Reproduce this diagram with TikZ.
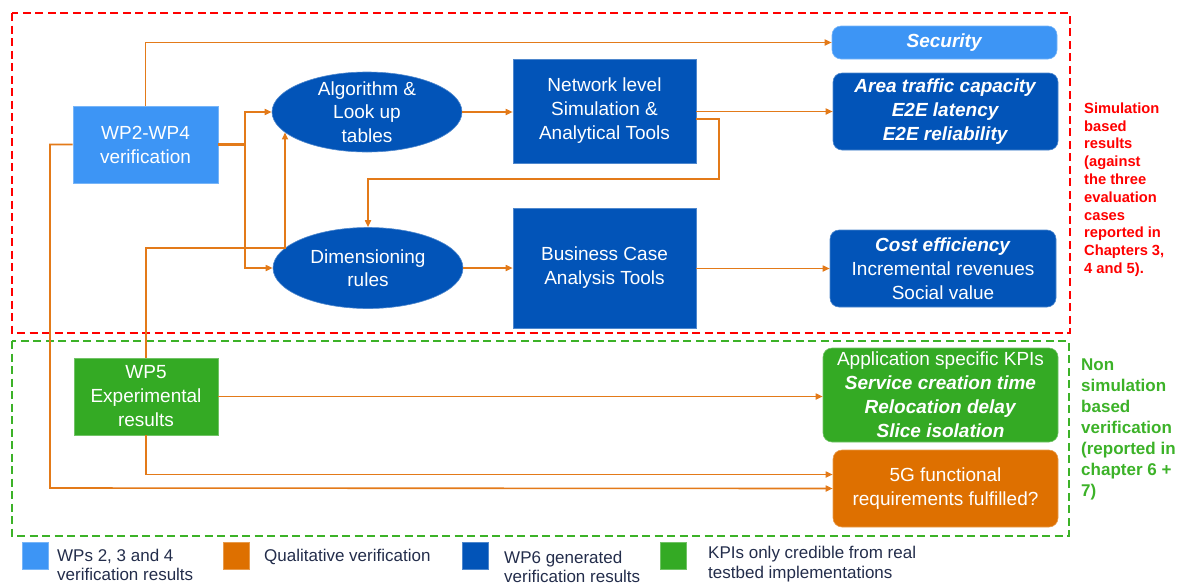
\documentclass[tikz,border=0pt]{standalone}
\usepackage{fontspec}
\setmainfont{Liberation Sans}
\usetikzlibrary{arrows.meta,shapes.geometric,calc}
\definecolor{lblue}{RGB}{61,149,245}
\definecolor{dblue}{RGB}{2,84,184}
\definecolor{grn}{RGB}{52,170,36}
\definecolor{orn}{RGB}{222,112,0}
\definecolor{ln}{RGB}{227,122,25}
\definecolor{rd}{RGB}{255,0,0}
\definecolor{gd}{RGB}{60,178,40}
\definecolor{navy}{RGB}{35,45,75}
\tikzset{
  box/.style={rectangle, fill=#1, draw=#1!70!white, line width=0.6pt, text=white, align=center, inner sep=0pt, font=\fontsize{19}{24}\selectfont},
  rbox/.style={box=#1, rounded corners=9pt},
  ell/.style={ellipse, fill=dblue, draw=dblue!70!white, line width=0.6pt, inner sep=0pt},
  elltext/.style={text=white, align=center, inner sep=0pt, font=\fontsize{19}{23.5}\selectfont},
  conn/.style={draw=ln, line width=1.6pt},
  arr/.style={conn, -{Triangle[length=7pt,width=6pt]}},
  legsq/.style={rectangle, minimum width=26pt, minimum height=27pt, inner sep=0pt, fill=#1, draw=#1!70!white, line width=0.5pt},
  leg/.style={text=navy, inner sep=0pt, font=\fontsize{17}{20}\selectfont, anchor=base west},
  region/.style={line width=2.5pt, dash pattern=on 8pt off 4.5pt},
}
\begin{document}
\begin{tikzpicture}[x=1pt,y=-1pt]
\useasboundingbox (0,0) rectangle (1182,584);

% regions
\draw[region, draw=rd] (12,13) rectangle (1070,333);
\draw[region, draw=gd] (12,341) rectangle (1069,536);

% nodes
\node[box=lblue, minimum width=145pt, minimum height=77pt] (wp24) at (145.5,144.5) {WP2-WP4\\verification};
\node[box=grn, minimum width=144pt, minimum height=77pt] (wp5) at (146,396.5) {WP5\\Experimental\\results};
\node[rbox=lblue, minimum width=225pt, minimum height=33pt] (sec) at (944.5,42.5) {\textbf{\textit{Security}}};
\node[rbox=dblue, minimum width=225pt, minimum height=77pt] (area) at (945.5,111.5) {\textbf{\textit{Area traffic capacity}}\\\textbf{\textit{E2E latency}}\\\textbf{\textit{E2E reliability}}};
\node[box=dblue, minimum width=183pt, minimum height=104pt] (net) at (604.5,111) {Network level\\Simulation \&\\Analytical Tools};
\node[box=dblue, minimum width=183pt, minimum height=120pt] (bus) at (604.5,268) {Business Case\\Analysis Tools};
\node[rbox=dblue, minimum width=226pt, minimum height=77pt] (cost) at (943,268.5) {\textbf{\textit{Cost efficiency}}\\Incremental revenues\\Social value};
\node[rbox=grn, minimum width=235pt, minimum height=94pt] (app) at (940.5,395) {Application specific KPIs\\\textbf{\textit{Service creation time}}\\\textbf{\textit{Relocation delay}}\\\textbf{\textit{Slice isolation}}};
\node[rbox=orn, minimum width=225pt, minimum height=77pt] (fg) at (945.5,488.5) {5G functional\\requirements fulfilled?};

\node[ell, minimum width=190pt, minimum height=80pt] (alg) at (367,112) {};
\node[elltext] (algt) at (alg.center) {Algorithm \&\\Look up\\tables};
\node[ell, minimum width=190pt, minimum height=81pt] (dim) at (368,268) {};
\node[elltext] (dimt) at (dim.center) {Dimensioning\\rules};

% connectors
\coordinate (j1) at (245,144.5);
\coordinate (k) at (285,248);
\coordinate (lp) at (719,179);
\coordinate (lft) at (50,488);

\draw[arr] (wp24.north) |- (sec.west);
\draw[conn, line width=3pt] (wp24.east) -- (j1);
\draw[arr] (j1) |- (alg.west);
\draw[arr] (j1) |- (dim.west);
\draw[arr] (wp5.north) |- (k) -- (k |- alg.194);
\draw[arr] (alg.east) -- (alg.east -| net.west);
\draw[arr] (net.east |- area.west) -- (area.west);
\draw[arr] ([yshift=-8pt]net.east) -| (lp) -| (dim.north);
\draw[arr] (dim.east) -- (dim.east -| bus.west);
\draw[arr] (bus.east |- cost.west) -- (cost.west);
\draw[arr] (wp5.east) -- (wp5.east -| app.west);
\draw[arr] (wp5.south) |- ([yshift=14pt]fg.west);
\draw[arr] (wp24.west) -| (lft) -- (fg.west);

% side notes
\node[anchor=north west, inner sep=0pt, align=left, text=rd, font=\fontsize{14.7}{17.8}\selectfont\bfseries] (note1) at (1084,102.5)
 {Simulation\\based\\results\\(against\\the three\\evaluation\\cases\\reported in\\Chapters 3,\\4 and 5).};
\node[anchor=north west, inner sep=0pt, align=left, text=gd, font=\fontsize{17}{21}\selectfont\bfseries] (note2) at (1081,359)
 {Non\\simulation\\based\\verification\\(reported in\\chapter 6 +\\7)};

% legend
\node[legsq=lblue] (l1) at (35,555.5) {};
\node[legsq=orn] (l2) at (236,555.5) {};
\node[legsq=dblue] (l3) at (475,555.5) {};
\node[legsq=grn] (l4) at (673,555.5) {};
\node[leg] (t1a) at (57,561) {WPs 2, 3 and 4};
\node[leg] (t1b) at (57,580.5) {verification results};
\node[leg] (t2) at (264,561) {Qualitative verification};
\node[leg] (t3a) at (504,563) {WP6 generated};
\node[leg] (t3b) at (504,582.5) {verification results};
\node[leg] (t4a) at (708,558) {KPIs only credible from real};
\node[leg] (t4b) at (708,578) {testbed implementations};
\end{tikzpicture}
\end{document}
